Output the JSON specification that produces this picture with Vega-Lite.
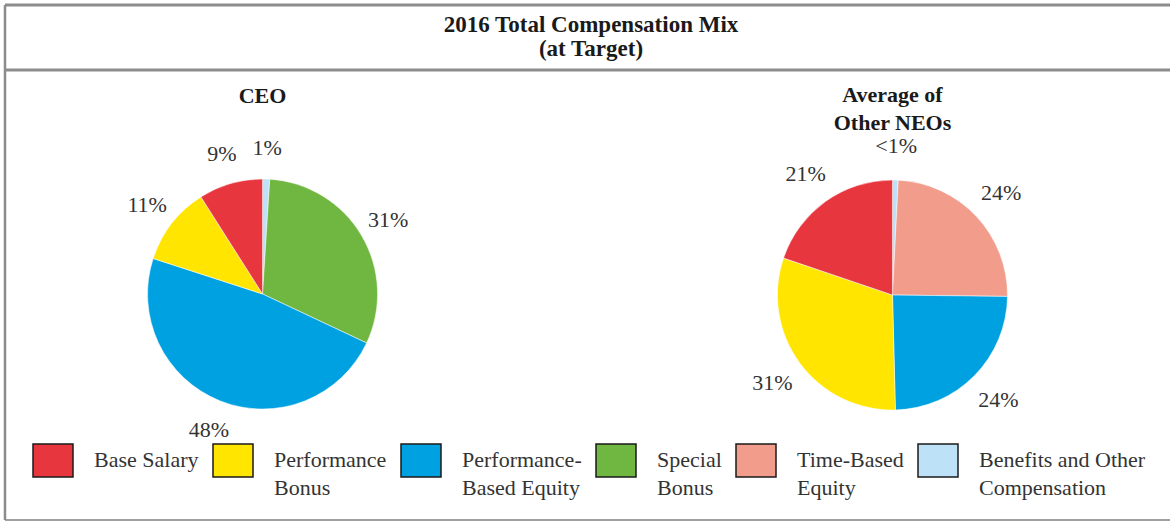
{
  "$schema": "https://vega.github.io/schema/vega-lite/v6.json",
  "width": 1172,
  "height": 523,
  "autosize": {"type": "fit", "contains": "padding"},
  "padding": 0,
  "background": "white",
  "config": {"view": {"stroke": null}, "axis": {"disable": true}, "font": "Liberation Serif"},
  "datasets": {
    "slices": [
      {"pie": "CEO", "category": "Benefits and Other Compensation", "order": 1, "value": 1, "label": "1%"},
      {"pie": "CEO", "category": "Special Bonus", "order": 2, "value": 31, "label": "31%"},
      {"pie": "CEO", "category": "Performance-Based Equity", "order": 3, "value": 48, "label": "48%"},
      {"pie": "CEO", "category": "Performance Bonus", "order": 4, "value": 11, "label": "11%"},
      {"pie": "CEO", "category": "Base Salary", "order": 5, "value": 9, "label": "9%"},
      {"pie": "NEO", "category": "Benefits and Other Compensation", "order": 1, "value": 0.8, "label": "<1%"},
      {"pie": "NEO", "category": "Time-Based Equity", "order": 2, "value": 24.4, "label": "24%"},
      {"pie": "NEO", "category": "Performance-Based Equity", "order": 3, "value": 24.4, "label": "24%"},
      {"pie": "NEO", "category": "Performance Bonus", "order": 4, "value": 30.6, "label": "31%"},
      {"pie": "NEO", "category": "Base Salary", "order": 5, "value": 19.8, "label": "21%"}
    ],
    "one": [{}]
  },
  "layer": [
    {
      "data": {"name": "one"},
      "mark": {"type": "rule", "stroke": "#8c8c8c", "strokeWidth": 3},
      "encoding": {
        "x": {"datum": 5, "type": "quantitative", "scale": {"domain": [0, 1172], "nice": false, "zero": false}},
        "x2": {"datum": 1172},
        "y": {"datum": 5, "type": "quantitative", "scale": {"domain": [0, 523], "nice": false, "zero": false, "reverse": true}}
      }
    },
    {
      "data": {"name": "one"},
      "mark": {"type": "rule", "stroke": "#8c8c8c", "strokeWidth": 3},
      "encoding": {
        "x": {"datum": 5, "type": "quantitative", "scale": {"domain": [0, 1172], "nice": false, "zero": false}},
        "x2": {"datum": 1172},
        "y": {"datum": 70, "type": "quantitative", "scale": {"domain": [0, 523], "nice": false, "zero": false, "reverse": true}}
      }
    },
    {
      "data": {"name": "one"},
      "mark": {"type": "rule", "stroke": "#a0a0a0", "strokeWidth": 2},
      "encoding": {
        "x": {"datum": 5, "type": "quantitative", "scale": {"domain": [0, 1172], "nice": false, "zero": false}},
        "x2": {"datum": 1172},
        "y": {"datum": 520, "type": "quantitative", "scale": {"domain": [0, 523], "nice": false, "zero": false, "reverse": true}}
      }
    },
    {
      "data": {"name": "one"},
      "mark": {"type": "rule", "stroke": "#8c8c8c", "strokeWidth": 2.5},
      "encoding": {
        "x": {"datum": 5, "type": "quantitative", "scale": {"domain": [0, 1172], "nice": false, "zero": false}},
        "y": {"datum": 5, "type": "quantitative", "scale": {"domain": [0, 523], "nice": false, "zero": false, "reverse": true}},
        "y2": {"datum": 520}
      }
    },
    {
      "data": {"name": "one"},
      "mark": {"type": "text", "font": "Liberation Serif", "fontSize": 23, "fontWeight": "bold", "color": "#1a1a1a", "align": "center", "baseline": "alphabetic", "lineHeight": 24},
      "encoding": {
        "x": {"datum": 592, "type": "quantitative", "scale": {"domain": [0, 1172], "nice": false, "zero": false}},
        "y": {"datum": 32, "type": "quantitative", "scale": {"domain": [0, 523], "nice": false, "zero": false, "reverse": true}},
        "text": {"value": ["2016 Total Compensation Mix", "(at Target)"]}
      }
    },
    {
      "data": {"name": "one"},
      "mark": {"type": "text", "font": "Liberation Serif", "fontSize": 22, "fontWeight": "bold", "color": "#1a1a1a", "align": "center", "baseline": "alphabetic"},
      "encoding": {
        "x": {"datum": 263, "type": "quantitative", "scale": {"domain": [0, 1172], "nice": false, "zero": false}},
        "y": {"datum": 103, "type": "quantitative", "scale": {"domain": [0, 523], "nice": false, "zero": false, "reverse": true}},
        "text": {"value": "CEO"}
      }
    },
    {
      "data": {"name": "one"},
      "mark": {"type": "text", "font": "Liberation Serif", "fontSize": 22, "fontWeight": "bold", "color": "#1a1a1a", "align": "center", "baseline": "alphabetic", "lineHeight": 28},
      "encoding": {
        "x": {"datum": 894, "type": "quantitative", "scale": {"domain": [0, 1172], "nice": false, "zero": false}},
        "y": {"datum": 102, "type": "quantitative", "scale": {"domain": [0, 523], "nice": false, "zero": false, "reverse": true}},
        "text": {"value": ["Average of", "Other NEOs"]}
      }
    },
    {
      "data": {"name": "slices"},
      "transform": [{"filter": "datum.pie == 'CEO'"}],
      "encoding": {
        "x": {"datum": 263, "type": "quantitative", "scale": {"domain": [0, 1172], "nice": false, "zero": false}},
        "y": {"datum": 294, "type": "quantitative", "scale": {"domain": [0, 523], "nice": false, "zero": false, "reverse": true}},
        "theta": {"field": "value", "type": "quantitative", "stack": true, "scale": {"domain": [0, 100]}},
        "order": {"field": "order", "type": "quantitative"}
      },
      "layer": [
        {
          "mark": {"type": "arc", "outerRadius": 115, "stroke": "white", "strokeWidth": 0.5},
          "encoding": {
            "color": {
              "field": "category", "type": "nominal",
              "scale": {
                "domain": ["Base Salary", "Performance Bonus", "Performance-Based Equity", "Special Bonus", "Time-Based Equity", "Benefits and Other Compensation"],
                "range": ["#E8363F", "#FFE500", "#00A1E1", "#6FB740", "#F29C8C", "#BDE1F6"]
              },
              "legend": {
                "title": null, "orient": "none", "legendX": 32, "legendY": 439.5, "direction": "horizontal", "padding": 0,
                "symbolType": "M-1,-0.825H1V0.825H-1Z", "symbolSize": 1600, "symbolStrokeColor": "#1a1a1a", "symbolStrokeWidth": 1.5, "symbolOpacity": 1,
                "labelFont": "Liberation Serif", "labelFontSize": 22, "labelColor": "#333333", "labelLimit": 0, "labelOffset": 20, "columnPadding": 11,
                "labelBaseline": "alphabetic",
                "labelExpr": "datum.label == 'Base Salary' ? ['Base Salary',''] : datum.label == 'Performance Bonus' ? ['Performance','Bonus'] : datum.label == 'Performance-Based Equity' ? ['Performance-','Based Equity'] : datum.label == 'Special Bonus' ? ['Special','Bonus'] : datum.label == 'Time-Based Equity' ? ['Time-Based','Equity'] : datum.label == 'Benefits and Other Compensation' ? ['Benefits and Other','Compensation'] : datum.label",
                "encode": {"labels": {"update": {"dy": {"value": 6}, "lineHeight": {"value": 28}}}}
              }
            }
          }
        },
        {
          "mark": {"type": "text", "radius": 146, "font": "Liberation Serif", "fontSize": 22, "color": "#333333"},
          "encoding": {
            "text": {"field": "label"},
            "detail": {"field": "category"}
          }
        }
      ]
    },
    {
      "data": {"name": "slices"},
      "transform": [{"filter": "datum.pie == 'NEO'"}],
      "encoding": {
        "x": {"datum": 894, "type": "quantitative", "scale": {"domain": [0, 1172], "nice": false, "zero": false}},
        "y": {"datum": 295, "type": "quantitative", "scale": {"domain": [0, 523], "nice": false, "zero": false, "reverse": true}},
        "theta": {"field": "value", "type": "quantitative", "stack": true, "scale": {"domain": [0, 100]}},
        "order": {"field": "order", "type": "quantitative"}
      },
      "layer": [
        {
          "mark": {"type": "arc", "outerRadius": 115, "stroke": "white", "strokeWidth": 0.5},
          "encoding": {
            "color": {
              "field": "category", "type": "nominal",
              "scale": {
                "domain": ["Base Salary", "Performance Bonus", "Performance-Based Equity", "Special Bonus", "Time-Based Equity", "Benefits and Other Compensation"],
                "range": ["#E8363F", "#FFE500", "#00A1E1", "#6FB740", "#F29C8C", "#BDE1F6"]
              },
              "legend": {
                "title": null, "orient": "none", "legendX": 32, "legendY": 439.5, "direction": "horizontal", "padding": 0,
                "symbolType": "M-1,-0.825H1V0.825H-1Z", "symbolSize": 1600, "symbolStrokeColor": "#1a1a1a", "symbolStrokeWidth": 1.5, "symbolOpacity": 1,
                "labelFont": "Liberation Serif", "labelFontSize": 22, "labelColor": "#333333", "labelLimit": 0, "labelOffset": 20, "columnPadding": 11,
                "labelBaseline": "alphabetic",
                "labelExpr": "datum.label == 'Base Salary' ? ['Base Salary',''] : datum.label == 'Performance Bonus' ? ['Performance','Bonus'] : datum.label == 'Performance-Based Equity' ? ['Performance-','Based Equity'] : datum.label == 'Special Bonus' ? ['Special','Bonus'] : datum.label == 'Time-Based Equity' ? ['Time-Based','Equity'] : datum.label == 'Benefits and Other Compensation' ? ['Benefits and Other','Compensation'] : datum.label",
                "encode": {"labels": {"update": {"dy": {"value": 6}, "lineHeight": {"value": 28}}}}
              }
            }
          }
        },
        {
          "mark": {"type": "text", "radius": 149, "font": "Liberation Serif", "fontSize": 22, "color": "#333333"},
          "encoding": {
            "text": {"field": "label"},
            "detail": {"field": "category"}
          }
        }
      ]
    }
  ]
}
